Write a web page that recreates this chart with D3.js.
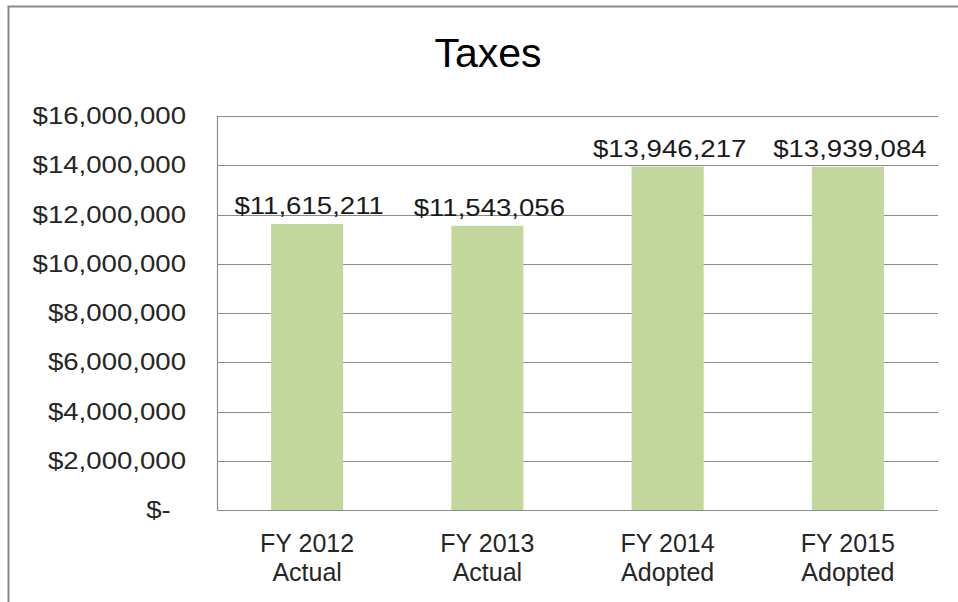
<!DOCTYPE html>
<html>
<head>
<meta charset="utf-8">
<script src="https://cdn.jsdelivr.net/npm/d3@7"></script>
<style>
  html, body { margin: 0; padding: 0; background: #fff; }
  svg { display: block; }
  text { font-family: "Liberation Sans", Arial, sans-serif; }
</style>
</head>
<body>
<svg id="chart" width="958" height="602"></svg>
<script>
// Tax revenue by fiscal year
const categories = ["FY 2012", "FY 2013", "FY 2014", "FY 2015"];
const subLabels = ["Actual", "Actual", "Adopted", "Adopted"];
const taxes = [11615211, 11543056, 13946217, 13939084];
const yTicks = [0, 2000000, 4000000, 6000000, 8000000, 10000000, 12000000, 14000000, 16000000];

const W = 958, H = 602;
const plot = { left: 217, right: 938, top: 116, bottom: 510 };

const svg = d3.select("#chart");

// chart frame (left and top edges)
svg.append("path")
  .attr("d", `M8.5,${H} V6.5 H${W}`)
  .attr("fill", "none")
  .attr("stroke", "#8a8a8a")
  .attr("stroke-width", 2);

// title
svg.append("text")
  .attr("x", 488)
  .attr("y", 67)
  .attr("text-anchor", "middle")
  .attr("font-size", 41)
  .attr("fill", "#000")
  .text("Taxes");

const x = d3.scaleBand()
  .domain(categories)
  .range([plot.left, plot.right])
  .paddingInner(0.6)
  .paddingOuter(0.3);

const y = d3.scaleLinear()
  .domain([0, 16000000])
  .range([plot.bottom, plot.top]);

const money = d3.format(",");
const tickText = v => v === 0 ? "$-\u00a0\u00a0" : "$" + money(v);

// horizontal gridlines
svg.append("g")
  .selectAll("line")
  .data(yTicks)
  .join("line")
  .attr("x1", plot.left)
  .attr("x2", plot.right)
  .attr("y1", d => Math.round(y(d)) + 0.5)
  .attr("y2", d => Math.round(y(d)) + 0.5)
  .attr("stroke", "#8c8c8c")
  .attr("stroke-width", 1.2);

// vertical axis line
svg.append("line")
  .attr("x1", plot.left + 0.5)
  .attr("x2", plot.left + 0.5)
  .attr("y1", plot.top)
  .attr("y2", plot.bottom + 0.5)
  .attr("stroke", "#8c8c8c")
  .attr("stroke-width", 1.2);

// y tick labels (slightly widened type)
svg.append("g")
  .selectAll("text")
  .data(yTicks)
  .join("text")
  .attr("transform", d => `translate(186,${y(d) + 8}) scale(1.2,1)`)
  .attr("text-anchor", "end")
  .attr("font-size", 23)
  .attr("fill", "#262626")
  .text(tickText);

// bars
svg.append("g")
  .selectAll("rect")
  .data(taxes)
  .join("rect")
  .attr("x", (d, i) => x(categories[i]))
  .attr("width", x.bandwidth())
  .attr("y", d => y(d))
  .attr("height", d => y(0) - y(d))
  .attr("fill", "#c3d69b");

// value labels
svg.append("g")
  .selectAll("text")
  .data(taxes)
  .join("text")
  .attr("transform", (d, i) => `translate(${x(categories[i]) + x.bandwidth() / 2 + 2},${y(d) - 10}) scale(1.2,1)`)
  .attr("text-anchor", "middle")
  .attr("font-size", 23)
  .attr("fill", "#1a1a1a")
  .text(d => "$" + money(d));

// category labels (two lines)
const cat = svg.append("g")
  .selectAll("text")
  .data(categories)
  .join("text")
  .attr("text-anchor", "middle")
  .attr("font-size", 25)
  .attr("fill", "#262626");
cat.append("tspan")
  .attr("x", d => x(d) + x.bandwidth() / 2)
  .attr("y", 552)
  .text(d => d);
cat.append("tspan")
  .attr("x", d => x(d) + x.bandwidth() / 2)
  .attr("y", 581)
  .text((d, i) => subLabels[i]);
</script>
</body>
</html>
